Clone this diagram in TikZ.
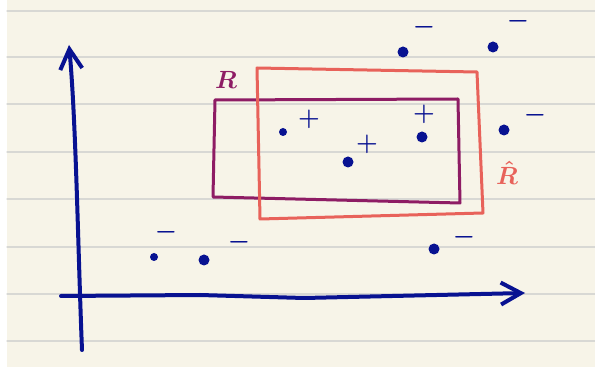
\documentclass[tikz,border=0pt]{standalone}
\usetikzlibrary{arrows.meta}
\definecolor{pen}{RGB}{8,18,145}
\definecolor{plum}{RGB}{142,28,100}
\definecolor{salmon}{RGB}{232,98,90}
\definecolor{paper}{RGB}{247,244,232}
\definecolor{ruling}{RGB}{216,216,212}
\tikzset{
  dot/.style={circle,fill=pen,inner sep=0pt,minimum size=11pt},
  smalldot/.style={dot,minimum size=8pt},
  sign/.style={text=pen,inner sep=0pt,font=\fontsize{25}{25}\selectfont\boldmath},
  letter/.style={inner sep=0pt,font=\fontsize{24}{24}\selectfont\boldmath},
  barb/.style={-{Straight Barb[length=20pt,width=22pt]}},
}
\begin{document}
\begin{tikzpicture}[x=1pt,y=-1pt,line cap=round,line join=round]
    % Paper with ruled lines
    \useasboundingbox (0,0) rectangle (595,374);
    \fill[white] (0,0) rectangle (595,374);
    \fill[paper] (7,0) rectangle (595,367);
    \foreach \y in {11,57,104,152,199,247,294,341}
      \draw[ruling,line width=1.2pt] (7,\y) -- (595,\y);

    % 1) Axes
    \draw[pen,line width=4pt,barb] (82,350) .. controls (78,250) and (76,120) .. (69,45);
    \draw[pen,line width=4pt,barb] (61,296) -- (200,295) -- (304,298) -- (525,293);

    % 2) The rectangle R and its label
    \draw[plum,line width=3pt] (215,100) -- (458,99) -- (460,203) -- (213,197) -- cycle;
    \node[letter,text=plum] (lblR) at (226,80) {$R$};

    % 3) The rectangle R-hat and its label
    \draw[salmon,line width=3pt] (257,68) -- (477,72) -- (483,213) -- (260,219) -- cycle;
    \node[letter,text=salmon] (lblRhat) at (507,173) {$\hat{R}$};

    % 4) Positive points (inside)
    \node[smalldot] (p1) at (283,132) {};
    \node[sign] (s1) at (309,119) {$+$};
    \node[dot] (p2) at (348,162) {};
    \node[sign] (s2) at (367,144) {$+$};
    \node[dot] (p3) at (422,137) {};
    \node[sign] (s3) at (424,114) {$+$};

    % 5) Negative points (outside)
    \node[dot] (n1) at (403,52) {};
    \node[sign] (m1) at (424,27) {$-$};
    \node[dot] (n2) at (493,47) {};
    \node[sign] (m2) at (518,21) {$-$};
    \node[dot] (n3) at (504,130) {};
    \node[sign] (m3) at (535,115) {$-$};
    \node[dot] (n4) at (434,249) {};
    \node[sign] (m4) at (464,237) {$-$};
    \node[smalldot] (n5) at (154,257) {};
    \node[sign] (m5) at (166,232) {$-$};
    \node[dot] (n6) at (204,260) {};
    \node[sign] (m6) at (239,242) {$-$};
\end{tikzpicture}
\end{document}
